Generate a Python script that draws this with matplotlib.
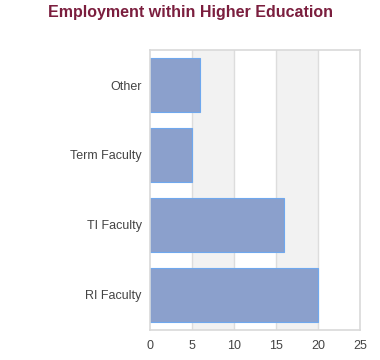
import matplotlib.pyplot as plt

plt.rcParams['font.family'] = ['Liberation Sans', 'DejaVu Sans']

categories = ["RI Faculty", "TI Faculty", "Term Faculty", "Other"]
values = [20, 16, 5, 6]
xticks = [0, 5, 10, 15, 20, 25]

fig = plt.figure(figsize=(3.8, 3.6), dpi=100)
ax = fig.add_axes([150 / 380, 30 / 360, 210 / 380, 280 / 360])

# alternating bands
for i in range(len(xticks) - 1):
    if i % 2 == 1:
        ax.axvspan(xticks[i], xticks[i + 1], color="#f2f2f2", zorder=0, lw=0)
for t in xticks[1:-1]:
    ax.axvline(t, color="#dddddd", lw=1, zorder=1)

ax.barh(range(len(categories)), values, height=0.76, color="#8ba0cc",
        edgecolor="#6fa8ee", linewidth=0.8, zorder=2)

ax.set_xlim(0, 25)
ax.set_ylim(-0.5, len(categories) - 0.5)
ax.set_xticks(xticks)
ax.set_yticks(range(len(categories)))
ax.set_yticklabels(categories)
ax.tick_params(length=0, labelsize=9, colors="#444444")
ax.tick_params(axis="y", pad=6)
ax.tick_params(axis="x", pad=7)
for s in ax.spines.values():
    s.set_color("#d9d9d9")
    s.set_linewidth(1.2)

fig.text(0.5, 1 - 13 / 360, "Employment within Higher Education", ha="center",
         va="center", fontsize=11.5, fontweight="bold", color="#7b1e3e")

fig.savefig("out.png")
